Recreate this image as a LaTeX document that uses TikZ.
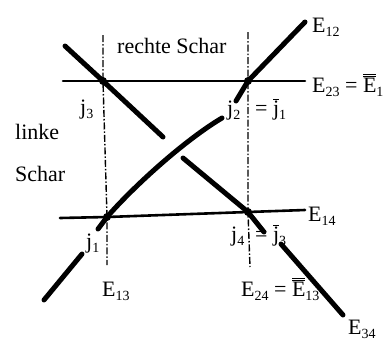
\documentclass[tikz,border=0pt]{standalone}
\usepackage{fontspec}
\setmainfont{Liberation Serif}
\newcommand{\sbs}[1]{\raisebox{-4.5pt}{\fontsize{14}{14}\selectfont #1}}
\newcommand{\bj}{$\overline{\hbox{j}}$}
\newcommand{\bbE}{$\overline{\overline{\hbox{E}}}$}
\begin{document}
\begin{tikzpicture}[x=1pt,y=-1pt,
  thickline/.style={line width=5pt,line cap=round,line join=round},
  hline/.style={line width=2.6pt,line cap=round},
  vline/.style={line width=1.4pt,dash pattern=on 7pt off 2pt on 1.5pt off 2pt},
  lbl/.style={inner sep=0pt,anchor=base west,font=\fontsize{22}{26}\selectfont},
  pt/.style={circle,fill=black,inner sep=0pt,minimum size=8pt}]
\useasboundingbox (0,0) rectangle (383,341);
% intersections
\coordinate (j3) at (103,81);
\coordinate (j2) at (248,81);
\coordinate (j1) at (107,217);
\coordinate (j4) at (248,212);
% ends
\coordinate (a0) at (305,22);
\coordinate (a1) at (236,101);
\coordinate (a2) at (222,118);
\coordinate (a3) at (98,229);
\coordinate (a4) at (82,254);
\coordinate (a5) at (44,300);
\coordinate (b0) at (65,46);
\coordinate (b1) at (163,137);
\coordinate (b2) at (183,158);
\coordinate (b3) at (264,232);
\coordinate (b4) at (281,244);
\coordinate (b5) at (343,315);
\coordinate (h0) at (63,81);
\coordinate (h1) at (305,81);
\coordinate (h2) at (60,218);
\coordinate (h3) at (305,210);
\coordinate (v0) at (103,35);
\coordinate (v1) at (107,265);
\coordinate (v2) at (248,32);
\coordinate (v3) at (250,267);
% vertical dashed lines
\draw[vline] (v0) -- (j3) -- (j1) -- (v1);
\draw[vline] (v2) -- (j2) -- (j4) -- (v3);
% horizontal lines
\draw[hline] (h0) -- (j3) -- (j2) -- (h1);
\draw[hline] (h2) -- (j1) -- (j4) -- (h3);
% thick lines
\draw[thickline] (a0) -- (j2) -- (a1);
\draw[thickline] (a2) .. controls (185,140) and (135,185) .. (j1) -- (a3);
\draw[thickline] (a4) -- (a5);
\draw[thickline] (b0) -- (j3) -- (b1);
\draw[thickline] (b2) -- (j4) -- (b3);
\draw[thickline] (b4) -- (b5);
% dots
\node[pt] (d3) at (j3) {};
\node[pt] (d2) at (j2) {};
\node[pt] (d1) at (j1) {};
\node[pt] (d4) at (j4) {};
% labels
\node[lbl] (t1) at (117,53) {rechte Schar};
\node[lbl] (t2) at (15,139) {linke};
\node[lbl] (t3) at (15,181) {Schar};
\node[lbl] (e12) at (312,32) {E\sbs{12}};
\node[lbl] (e23) at (312,92) {E\sbs{23} = \bbE\sbs{14}};
\node[lbl] (e14) at (308,221) {E\sbs{14}};
\node[lbl] (e13) at (102,296) {E\sbs{13}};
\node[lbl] (e24) at (241,296) {E\sbs{24} = \bbE\sbs{13}};
\node[lbl] (e34) at (348,334) {E\sbs{34}};
\node[lbl] (lj3) at (80,114) {j\sbs{3}};
\node[lbl] (lj2) at (227,115) {j\sbs{2}};
\node[lbl] (lj1b) at (255,115) {= \bj\sbs{1}};
\node[lbl] (lj1) at (86,248) {j\sbs{1}};
\node[lbl] (lj4) at (231,241) {j\sbs{4}};
\node[lbl] (lj3b) at (255,241) {= \bj\sbs{3}};
\end{tikzpicture}
\end{document}
